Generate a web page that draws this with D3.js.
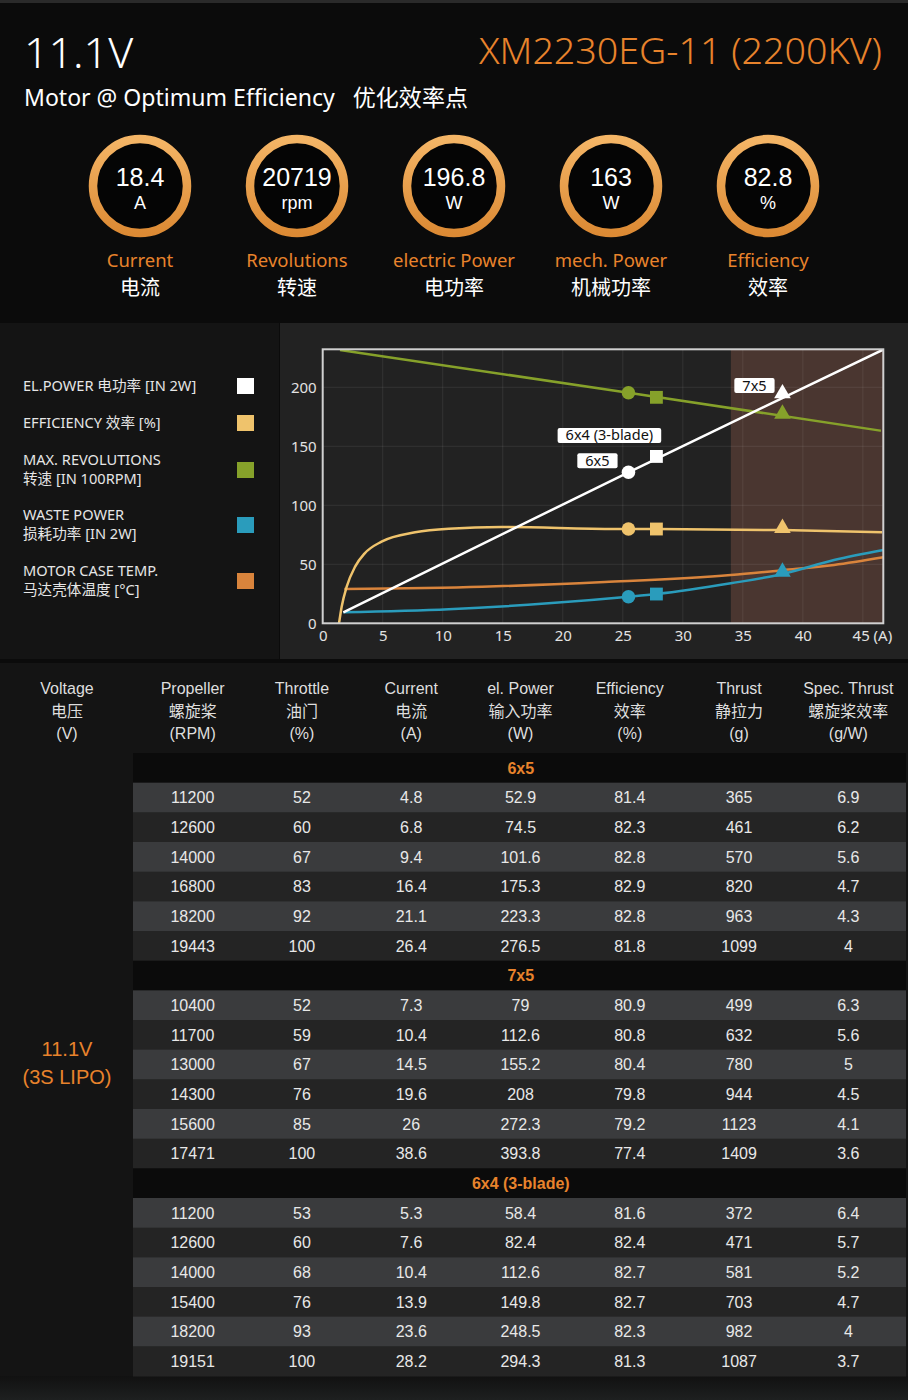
<!DOCTYPE html>
<html>
<head>
<meta charset="utf-8">
<script src="https://cdn.jsdelivr.net/npm/d3@7"></script>
<style>
  body { margin: 0; background: #0b0b0b; }
  svg { display: block; }
</style>
</head>
<body>
<script>
// ---------- data ----------
var voltageLabel = "11.1V";
var motorName = "XM2230EG-11 (2200KV)";
var subTitle = "Motor @ Optimum Efficiency   优化效率点";

var kpiValues = ["18.4", "20719", "196.8", "163", "82.8"];
var kpiUnits = ["A", "rpm", "W", "W", "%"];
var kpiNamesEn = ["Current", "Revolutions", "electric Power", "mech. Power", "Efficiency"];
var kpiNamesCn = ["电流", "转速", "电功率", "机械功率", "效率"];

var legendLines = [
  ["EL.POWER 电功率 [IN 2W]"],
  ["EFFICIENCY 效率 [%]"],
  ["MAX. REVOLUTIONS", "转速 [IN 100RPM]"],
  ["WASTE POWER", "损耗功率 [IN 2W]"],
  ["MOTOR CASE TEMP.", "马达壳体温度 [°C]"]
];

var xTicks = [0, 5, 10, 15, 20, 25, 30, 35, 40, 45];
var yTicks = [0, 50, 100, 150, 200];

// curves: [current A, value]
var elPowerPts = [[1.72, 9.3], [25.47, 128], [46.7, 232]];
var efficiencyPts = [[1.36, 0], [1.58, 14], [2.0, 31], [2.7, 48], [3.5, 59.3], [4.9, 69.2], [7.7, 77.1],
  [10.5, 80.2], [14.9, 81.6], [24.4, 79.9], [27.8, 79.9], [38.3, 79], [46.6, 77.1]];
var revolutionPts = [[1.44, 231.6], [25.47, 195.4], [46.5, 163.2]];
var wastePowerPts = [[1.72, 9.3], [10.5, 11.9], [18.8, 16.9], [25.47, 22.5], [27.8, 24.8], [34, 33.9],
  [38.3, 41.8], [42.6, 53.6], [46.7, 62.1]];
var caseTempPts = [[1.8, 29], [13.3, 31], [23.5, 35], [34, 40.9], [38.3, 45], [42.6, 49.4], [46.7, 55.9]];

// markers for the three propellers at full throttle
var markProps = ["6x5", "6x4 (3-blade)", "7x5"];
var markCurrent = [25.47, 27.8, 38.3];
var markElPower = [128, 141.4, 193];
var markEfficiency = [79.9, 79.9, 79];
var markRevolution = [195.4, 191.5, 175.7];
var markWastePower = [22.5, 24.8, 41.8];
var overloadFrom = 34;

// table
var headEn = ["Voltage", "Propeller", "Throttle", "Current", "el. Power", "Efficiency", "Thrust", "Spec. Thrust"];
var headCn = ["电压", "螺旋桨", "油门", "电流", "输入功率", "效率", "静拉力", "螺旋桨效率"];
var headUnit = ["(V)", "(RPM)", "(%)", "(A)", "(W)", "(%)", "(g)", "(g/W)"];
var groupNames = ["6x5", "7x5", "6x4 (3-blade)"];
var rows6x5 = [
  [11200, 52, 4.8, 52.9, 81.4, 365, 6.9],
  [12600, 60, 6.8, 74.5, 82.3, 461, 6.2],
  [14000, 67, 9.4, 101.6, 82.8, 570, 5.6],
  [16800, 83, 16.4, 175.3, 82.9, 820, 4.7],
  [18200, 92, 21.1, 223.3, 82.8, 963, 4.3],
  [19443, 100, 26.4, 276.5, 81.8, 1099, 4]
];
var rows7x5 = [
  [10400, 52, 7.3, 79, 80.9, 499, 6.3],
  [11700, 59, 10.4, 112.6, 80.8, 632, 5.6],
  [13000, 67, 14.5, 155.2, 80.4, 780, 5],
  [14300, 76, 19.6, 208, 79.8, 944, 4.5],
  [15600, 85, 26, 272.3, 79.2, 1123, 4.1],
  [17471, 100, 38.6, 393.8, 77.4, 1409, 3.6]
];
var rows6x4 = [
  [11200, 53, 5.3, 58.4, 81.6, 372, 6.4],
  [12600, 60, 7.6, 82.4, 82.4, 471, 5.7],
  [14000, 68, 10.4, 112.6, 82.7, 581, 5.2],
  [15400, 76, 13.9, 149.8, 82.7, 703, 4.7],
  [18200, 93, 23.6, 248.5, 82.3, 982, 4],
  [19151, 100, 28.2, 294.3, 81.3, 1087, 3.7]
];
var batteryLabel = ["11.1V", "(3S LIPO)"];

// ---------- drawing ----------
var W = 908, H = 1400;
var orange = "#e8832c";
var colors = ["#ffffff", "#efc36c", "#86a12a", "#2a9cbc", "#d9843c"];
var latin = "'Noto Sans', 'Open Sans', sans-serif";
var cjk = "'Noto Sans', 'Noto Sans CJK SC', sans-serif";
var tableFont = "'Liberation Sans', Arial, 'Noto Sans CJK SC', sans-serif";

var svg = d3.select("body").append("svg")
  .attr("width", W)
  .attr("height", H);

var defs = svg.append("defs");
var ring = defs.append("linearGradient")
  .attr("id", "ring").attr("x1", 0).attr("y1", 0).attr("x2", 0).attr("y2", 1);
ring.append("stop").attr("offset", "0%").attr("stop-color", "#f4b566");
ring.append("stop").attr("offset", "100%").attr("stop-color", "#dc8a34");

var bottomFade = defs.append("linearGradient")
  .attr("id", "fade").attr("x1", 0).attr("y1", 0).attr("x2", 0).attr("y2", 1);
bottomFade.append("stop").attr("offset", "0%").attr("stop-color", "#111");
bottomFade.append("stop").attr("offset", "100%").attr("stop-color", "#1e2020");

// backgrounds
svg.append("rect").attr("width", W).attr("height", 323).attr("fill", "#0b0b0b");
svg.append("rect").attr("width", W).attr("height", 3).attr("fill", "#2a2a2a");
svg.append("rect").attr("y", 323).attr("width", 279).attr("height", 336).attr("fill", "#141414");
svg.append("rect").attr("x", 280).attr("y", 323).attr("width", 628).attr("height", 336).attr("fill", "#222222");
svg.append("rect").attr("y", 659).attr("width", W).attr("height", 4).attr("fill", "#0b0b0b");
svg.append("rect").attr("y", 663).attr("width", W).attr("height", 737).attr("fill", "#141414");
svg.append("rect").attr("y", 1376).attr("width", W).attr("height", 24).attr("fill", "url(#fade)");

// header
svg.append("text")
  .attr("x", 24).attr("y", 68)
  .attr("fill", "#fff")
  .style("font-family", latin).style("font-size", "43px").style("font-weight", 300)
  .text(voltageLabel);

svg.append("text")
  .attr("x", 882).attr("y", 64)
  .attr("text-anchor", "end")
  .attr("fill", orange)
  .attr("textLength", 403).attr("lengthAdjust", "spacingAndGlyphs")
  .style("font-family", latin).style("font-size", "37px").style("font-weight", 300)
  .text(motorName);

svg.append("text")
  .attr("x", 24).attr("y", 106)
  .attr("fill", "#fff")
  .attr("textLength", 444).attr("lengthAdjust", "spacingAndGlyphs")
  .style("white-space", "pre")
  .style("font-family", cjk).style("font-size", "23px")
  .text(subTitle);

// KPI rings
var kpiX = d3.scalePoint().domain(kpiNamesEn).range([140, 768]);
var kpi = svg.selectAll("g.kpi")
  .data(kpiNamesEn)
  .enter().append("g")
  .attr("class", "kpi")
  .attr("transform", function(d) { return "translate(" + kpiX(d) + ",0)"; });

kpi.append("circle")
  .attr("cy", 186).attr("r", 47)
  .attr("fill", "#050505")
  .attr("stroke", "url(#ring)")
  .attr("stroke-width", 8.5);

kpi.append("text")
  .attr("y", 186).attr("text-anchor", "middle")
  .attr("fill", "#fff")
  .style("font-family", tableFont).style("font-size", "25px")
  .text(function(d, i) { return kpiValues[i]; });

kpi.append("text")
  .attr("y", 209).attr("text-anchor", "middle")
  .attr("fill", "#fff")
  .style("font-family", tableFont).style("font-size", "18px")
  .text(function(d, i) { return kpiUnits[i]; });

kpi.append("text")
  .attr("y", 267).attr("text-anchor", "middle")
  .attr("fill", orange)
  .style("font-family", latin).style("font-size", "18.5px")
  .text(function(d) { return d; });

kpi.append("text")
  .attr("y", 295).attr("text-anchor", "middle")
  .attr("fill", "#fff")
  .style("font-family", cjk).style("font-size", "20px")
  .text(function(d, i) { return kpiNamesCn[i]; });

// legend
var legendTop = [386, 423, 460, 515, 571];
var legend = svg.selectAll("g.legend")
  .data(legendLines)
  .enter().append("g")
  .attr("class", "legend")
  .attr("transform", function(d, i) { return "translate(0," + legendTop[i] + ")"; });

legend.selectAll("text")
  .data(function(d) { return d; })
  .enter().append("text")
  .attr("x", 23)
  .attr("y", function(d, i) { return i * 19 + 5; })
  .attr("fill", "#e6e6e6")
  .style("font-family", cjk).style("font-size", "14.6px")
  .text(function(d) { return d; });

legend.append("rect")
  .attr("x", 237)
  .attr("y", function(d) { return d.length > 1 ? 2 : -8; })
  .attr("width", 17).attr("height", 16)
  .attr("fill", function(d, i) { return colors[i]; });

// chart
var x = d3.scaleLinear().domain([0, 46.7]).range([322.7, 883.3]);
var y = d3.scaleLinear().domain([0, 232.2]).range([623.3, 349.3]);

defs.append("clipPath").attr("id", "plot")
  .append("rect")
  .attr("x", x(0)).attr("y", y(232.2))
  .attr("width", x(46.7) - x(0)).attr("height", y(0) - y(232.2));

svg.append("rect")
  .attr("x", x(overloadFrom)).attr("y", y(232.2))
  .attr("width", x(46.7) - x(overloadFrom)).attr("height", y(0) - y(232.2))
  .attr("fill", "#4a3630");

svg.append("g")
  .selectAll("line")
  .data(xTicks.slice(1))
  .enter().append("line")
  .attr("x1", function(d) { return x(d); }).attr("x2", function(d) { return x(d); })
  .attr("y1", y(0)).attr("y2", y(232.2))
  .attr("stroke", "#ffffff").attr("stroke-opacity", 0.08);

svg.append("g")
  .selectAll("line")
  .data(yTicks.slice(1))
  .enter().append("line")
  .attr("x1", x(0)).attr("x2", x(46.7))
  .attr("y1", function(d) { return y(d); }).attr("y2", function(d) { return y(d); })
  .attr("stroke", "#ffffff").attr("stroke-opacity", 0.08);

var xAxis = d3.axisBottom(x).tickValues(xTicks).tickSize(0).tickPadding(7)
  .tickFormat(function(d) { return d == 45 ? "45 (A)" : d; });
var yAxis = d3.axisLeft(y).tickValues(yTicks).tickSize(0).tickPadding(6);

var gx = svg.append("g").attr("transform", "translate(0," + y(0) + ")").call(xAxis);
var gy = svg.append("g").attr("transform", "translate(" + x(0) + ",0)").call(yAxis);
[gx, gy].forEach(function(g) {
  g.select(".domain").remove();
  g.selectAll("text")
    .attr("fill", "#e2e2e2")
    .style("font-family", latin).style("font-size", "15px");
});
gx.selectAll("text").attr("dx", function(d) { return d == 45 ? "9px" : 0; });

var line = d3.line()
  .x(function(d) { return x(d[0]); })
  .y(function(d) { return y(d[1]); })
  .curve(d3.curveMonotoneX);

var curves = svg.append("g").attr("clip-path", "url(#plot)");
var allCurves = [caseTempPts, wastePowerPts, efficiencyPts, revolutionPts, elPowerPts];
var curveColors = [colors[4], colors[3], colors[1], colors[2], colors[0]];
curves.selectAll("path")
  .data(allCurves)
  .enter().append("path")
  .attr("d", function(d) { return line(d); })
  .attr("fill", "none")
  .attr("stroke", function(d, i) { return curveColors[i]; })
  .attr("stroke-width", 2.5);

// markers
var shapes = [d3.symbolCircle, d3.symbolSquare, d3.symbolTriangle];
var shapeSize = [145, 165, 120];
var markSeries = [
  { vals: markWastePower, color: colors[3] },
  { vals: markEfficiency, color: colors[1] },
  { vals: markRevolution, color: colors[2] },
  { vals: markElPower, color: colors[0] }
];
markSeries.forEach(function(s) {
  svg.append("g").selectAll("path")
    .data(markCurrent)
    .enter().append("path")
    .attr("transform", function(d, i) {
      var dy = i == 2 ? -2 : 0;
      return "translate(" + x(d) + "," + (y(s.vals[i]) + dy) + ")";
    })
    .attr("d", function(d, i) { return d3.symbol().type(shapes[i]).size(shapeSize[i])(); })
    .attr("fill", s.color);
});

// propeller tags near the el. power markers
var tagOffset = [[-31, -11.5], [-47, -21], [-28, -10]];
var tags = svg.selectAll("g.tag")
  .data(markProps)
  .enter().append("g")
  .attr("class", "tag")
  .attr("transform", function(d, i) {
    return "translate(" + (x(markCurrent[i]) + tagOffset[i][0]) + "," + (y(markElPower[i]) + tagOffset[i][1]) + ")";
  });
tags.append("rect").attr("fill", "#fff").attr("rx", 2);
tags.append("text")
  .attr("text-anchor", "middle").attr("y", 5)
  .attr("fill", "#111")
  .style("font-family", latin).style("font-size", "14.5px")
  .text(function(d) { return d; });
tags.each(function() {
  var g = d3.select(this);
  var b = g.select("text").node().getBBox();
  g.select("rect")
    .attr("x", -b.width / 2 - 8).attr("y", -7.5)
    .attr("width", b.width + 16).attr("height", 15);
});

svg.append("rect")
  .attr("x", x(0)).attr("y", y(232.2))
  .attr("width", x(46.7) - x(0)).attr("height", y(0) - y(232.2))
  .attr("fill", "none").attr("stroke", "#d0d0d0").attr("stroke-width", 2);

// table
var colX = d3.scaleBand().domain(d3.range(7)).range([138, 903]);
var headX = [67].concat(d3.range(7).map(function(i) { return colX(i) + colX.bandwidth() / 2; }));

var head = svg.append("g");
[headEn, headCn, headUnit].forEach(function(arr, r) {
  head.selectAll("text.h" + r)
    .data(arr)
    .enter().append("text")
    .attr("class", "h" + r)
    .attr("x", function(d, i) { return headX[i]; })
    .attr("y", 694 + r * 22.5)
    .attr("text-anchor", "middle")
    .attr("fill", "#dedede")
    .style("font-family", tableFont).style("font-size", "16px")
    .text(function(d) { return d; });
});

var groups = [rows6x5, rows7x5, rows6x4];
var tableRows = [];
groups.forEach(function(rows, g) {
  tableRows.push({ group: groupNames[g] });
  rows.forEach(function(r, k) { tableRows.push({ vals: r, odd: k % 2 }); });
});

var rowY = d3.scaleBand().domain(d3.range(tableRows.length)).range([753, 1376]);

var row = svg.selectAll("g.row")
  .data(tableRows)
  .enter().append("g")
  .attr("class", "row")
  .attr("transform", function(d, i) { return "translate(0," + rowY(i) + ")"; });

row.append("rect")
  .attr("x", 133).attr("width", 773)
  .attr("height", rowY.bandwidth() + 0.5)
  .attr("fill", function(d) { return d.group ? "#0b0b0b" : (d.odd ? "#242424" : "#3a3b3d"); });

row.filter(function(d) { return d.group; })
  .append("text")
  .attr("x", colX(4) + colX.bandwidth() / 2 - 109)
  .attr("y", rowY.bandwidth() / 2 + 6)
  .attr("text-anchor", "middle")
  .attr("fill", orange)
  .style("font-family", tableFont).style("font-size", "16px").style("font-weight", "bold")
  .text(function(d) { return d.group; });

row.filter(function(d) { return d.vals; })
  .selectAll("text")
  .data(function(d) { return d.vals; })
  .enter().append("text")
  .attr("x", function(d, i) { return colX(i) + colX.bandwidth() / 2; })
  .attr("y", rowY.bandwidth() / 2 + 6)
  .attr("text-anchor", "middle")
  .attr("fill", "#e8e8e8")
  .style("font-family", tableFont).style("font-size", "16px")
  .text(function(d) { return d; });

svg.selectAll("text.batt")
  .data(batteryLabel)
  .enter().append("text")
  .attr("class", "batt")
  .attr("x", 67)
  .attr("y", function(d, i) { return 1056 + i * 28; })
  .attr("text-anchor", "middle")
  .attr("fill", orange)
  .style("font-family", tableFont).style("font-size", "20px")
  .text(function(d) { return d; });
</script>
</body>
</html>
